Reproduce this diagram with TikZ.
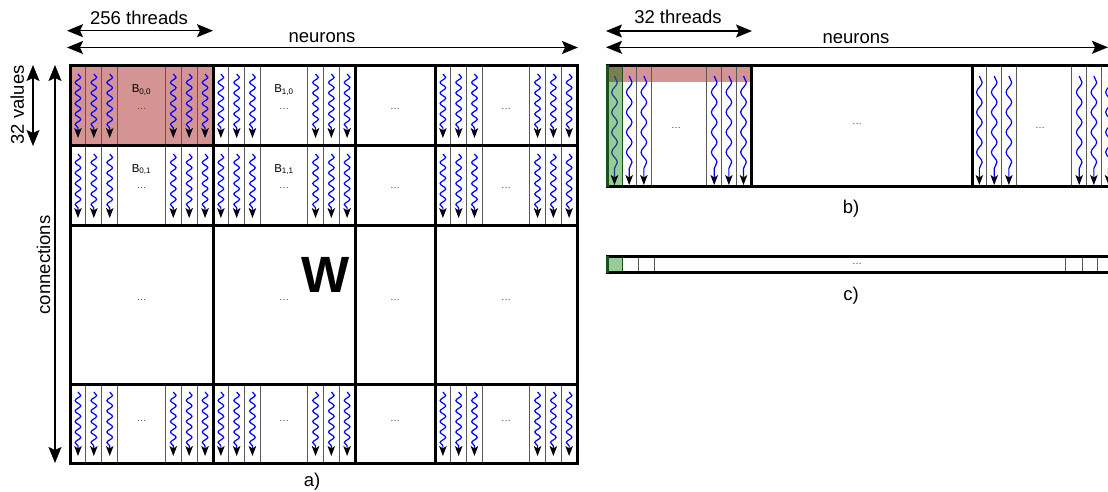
\documentclass[tikz,border=0pt]{standalone}
\usepackage{fontspec}
\setmainfont{Liberation Sans}
\usetikzlibrary{arrows.meta,decorations.pathmorphing}
\definecolor{blockred}{RGB}{212,148,148}
\definecolor{selgreen}{RGB}{150,204,150}
\definecolor{overlapc}{RGB}{125,125,82}
\definecolor{darkgreen}{RGB}{30,80,30}
\definecolor{wavedark}{RGB}{30,60,140}
\begin{document}
\begin{tikzpicture}[x=1pt,y=-1pt,
  frame/.style={line width=3pt, line cap=rect},
  gridline/.style={line width=1pt, black!65},
  wave/.style={blue, line width=1.2pt, decorate,
    decoration={snake, amplitude=2.8pt, segment length=10.5pt, post length=10pt},
    -{Stealth[length=10pt,width=7.5pt,inset=2.5pt,color=black,fill=black]}},
  wavelong/.style={wave, decoration={snake, amplitude=2.8pt, segment length=20pt, post length=10pt}},
  dimarrow/.style={line width=1.4pt,
    {Stealth[length=16pt,width=13pt,inset=3pt]}-{Stealth[length=16pt,width=13pt,inset=3pt]}},
  lab/.style={font=\fontsize{18.5}{22}\selectfont, inner sep=0pt},
  blab/.style={font=\fontsize{11.5}{13}\selectfont, inner sep=0pt, anchor=base},
  dotlab/.style={font=\fontsize{10}{12}\selectfont, text=black!75, inner sep=0pt, anchor=base}
]
\useasboundingbox (0,0) rectangle (1108,492);

% ---------------- a) ----------------
\fill[blockred] (70,66) rectangle (213,146);
\foreach \L/\R in {70/213, 213/355, 435/577} {
  \foreach \T/\B in {66/146, 146/225, 384/463} {
    \pgfmathsetmacro\w{(\R-\L)/9}
    \foreach \k in {1,2,3,6,7,8}
      \draw[gridline] ({\L+\k*\w},\T) -- ({\L+\k*\w},\B);
    \foreach \k in {0,1,2,6,7,8}
      \draw[wave] ({\L+(\k+0.5)*\w},{\T+8}) -- ({\L+(\k+0.5)*\w},{\T+72});
  }
}
\foreach \x/\c in {141.5/0, 284/1, 395/2, 506/3}
  \foreach \y/\r in {109.2/0, 188.7/1, 300.7/2, 421.7/3}
    \node[dotlab] (dots\c\r) at (\x,\y) {\dots};
\node[blab] (b00) at (141.5,93) {B\textsubscript{0,0}};
\node[blab] (b10) at (284,93) {B\textsubscript{1,0}};
\node[blab] (b01) at (141.5,172) {B\textsubscript{0,1}};
\node[blab] (b11) at (284,172) {B\textsubscript{1,1}};
\node[font=\fontsize{51}{56}\selectfont\bfseries, inner sep=0pt, anchor=base] (W) at (326,292) {W};

\draw[frame] (70,66) rectangle (577,463);
\foreach \x in {213,355,435} \draw[frame] (\x,66) -- (\x,463);
\foreach \y in {146,225,384} \draw[frame] (70,\y) -- (577,\y);

\coordinate (t256L) at (67,30.7);
\coordinate (t256R) at (213,30.7);
\coordinate (neuAL) at (67,47.5);
\coordinate (neuAR) at (578,47.5);
\coordinate (valT) at (33,65);
\coordinate (valB) at (33,146);
\coordinate (conT) at (55,65);
\coordinate (conB) at (55,463);
\draw[dimarrow] (t256L) -- (t256R);
\draw[dimarrow] (neuAL) -- (neuAR);
\draw[dimarrow] (valT) -- (valB);
\draw[dimarrow] (conT) -- (conB);
\node[lab, anchor=base] (lab256) at (139,24.3) {256 threads};
\node[lab, anchor=base] (labneuA) at (322,43) {neurons};
\node[lab, rotate=90] (labval) at (17.3,105) {32 values};
\node[lab, rotate=90] (labcon) at (43.5,265) {connections};
\node[lab, anchor=base] (laba) at (312,486) {a)};

% ---------------- b) ----------------
\fill[blockred] (607,66) rectangle (751,82);
\foreach \o in {607,972} {
  \foreach \d in {14.7,29.7,44,99.7,114.7,129}
    \draw[gridline] ({\o+\d},66) -- ({\o+\d},186);
}
\foreach \x in {629.2,643.85,714.2,728.85,743.5,979.35,994.2,1008.85,1079.2,1093.85,1108.5}
  \draw[wavelong] (\x,76) -- (\x,185);
\fill[selgreen] (607,66) rectangle (622,186);
\fill[overlapc] (607,66) rectangle (622,82);
\draw[wavelong, wavedark] (614.5,76) -- (614.5,185);
\draw[darkgreen, line width=1pt] (622,66) -- (622,186);
\draw[frame] (1115,66) -- (607,66) -- (607,186) -- (1115,186);
\draw[frame, darkgreen] (607,67) -- (607,185);
\foreach \x in {751,972} \draw[frame] (\x,66) -- (\x,186);
\node[dotlab] (dotsb1) at (676,128.2) {\dots};
\node[dotlab] (dotsb2) at (857,124.2) {\dots};
\node[dotlab] (dotsb3) at (1040,128.2) {\dots};

\coordinate (t32L) at (606,31);
\coordinate (t32R) at (752,31);
\coordinate (neuBL) at (606,47.3);
\coordinate (neuBR) at (1108,47.3);
\draw[dimarrow] (t32L) -- (t32R);
\draw[dimarrow] (neuBL) -- (neuBR);
\node[lab, anchor=base] (lab32) at (678,24) {32 threads};
\node[lab, anchor=base] (labneuB) at (856,43.3) {neurons};
\node[lab, anchor=base] (labb) at (851,213) {b)};

% ---------------- c) ----------------
\fill[selgreen] (607,256) rectangle (622.7,272);
\foreach \x in {638.7,654.3,1065.7,1082,1097.7}
  \draw[gridline] (\x,256) -- (\x,272);
\draw[darkgreen, line width=1pt] (622.7,256) -- (622.7,272);
\draw[frame] (1115,256) -- (607,256) -- (607,272) -- (1115,272);
\draw[frame, darkgreen] (607,257) -- (607,271);
\node[dotlab] (dotsc) at (857,264.5) {\dots};
\node[lab, anchor=base] (labc) at (851,300) {c)};
\end{tikzpicture}
\end{document}
